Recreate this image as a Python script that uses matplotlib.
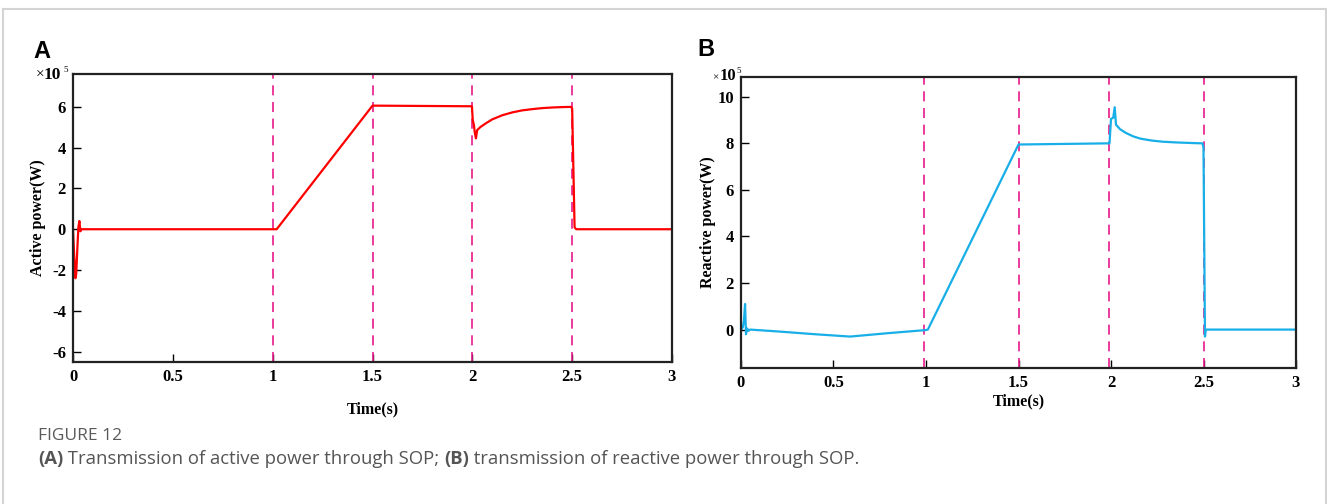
import matplotlib
matplotlib.use("Agg")
import matplotlib.pyplot as plt
from matplotlib.lines import Line2D

# ---------------- data (values in units of 1e5 W) ----------------
t_active = [0.0, 0.006, 0.012, 0.016, 0.022, 0.027, 0.032, 0.037, 0.043, 0.5, 1.0, 1.02,
            1.5, 1.52, 1.998, 2.002, 2.008, 2.012, 2.018, 2.024, 2.04, 2.07,
            2.10, 2.15, 2.20, 2.25, 2.30, 2.35, 2.40, 2.45, 2.495, 2.50,
            2.512, 2.52, 3.0]
p_active = [0.0, -1.3, -2.4, -2.2, -0.9, 0.1, 0.4, -0.1, 0.0, 0.0, 0.0, 0.0,
            6.05, 6.05, 6.02, 5.35, 5.1, 4.75, 4.45, 4.85, 5.0, 5.2,
            5.38, 5.58, 5.72, 5.82, 5.88, 5.93, 5.96, 5.98, 5.99, 5.9,
            0.1, 0.0, 0.0]

t_reactive = [0.0, 0.010, 0.016, 0.022, 0.027, 0.033, 0.040, 0.05, 0.2, 0.4, 0.59,
              0.8, 1.0, 1.01, 1.5, 1.985, 1.992, 2.0, 2.012, 2.02, 2.027,
              2.05, 2.08, 2.12, 2.16, 2.22, 2.28, 2.35, 2.45, 2.495, 2.50,
              2.508, 2.512, 3.0]
p_reactive = [0.0, 0.1, 0.4, 1.1, -0.2, 0.05, -0.05, 0.0, -0.08, -0.2, -0.3,
              -0.15, -0.02, 0.0, 7.95, 8.0, 8.0, 9.05, 9.1, 9.55, 8.8,
              8.6, 8.45, 8.3, 8.2, 8.12, 8.07, 8.04, 8.01, 8.0, 7.8,
              -0.3, 0.0, 0.0]

event_active = [1.0, 1.5, 2.0, 2.5]
event_reactive = [0.99, 1.5, 1.99, 2.5]

x_ticks = [0, 0.5, 1, 1.5, 2, 2.5, 3]
x_ticklabels = ["0", "0.5", "1", "1.5", "2", "2.5", "3"]
y_ticks_a = [-6, -4, -2, 0, 2, 4, 6]
y_ticks_b = [0, 2, 4, 6, 8, 10]

W, H = 1327, 504
fig = plt.figure(figsize=(W / 100, H / 100), dpi=100)

serif = ["Liberation Serif", "DejaVu Serif"]

# border frame
fig.add_artist(Line2D([3 / W, 3 / W], [0, 1 - 9 / H], transform=fig.transFigure, color="#d4d4d4", lw=1.5))
fig.add_artist(Line2D([3 / W, 1326 / W], [1 - 9 / H, 1 - 9 / H], transform=fig.transFigure, color="#d4d4d4", lw=1.5))
fig.add_artist(Line2D([1326 / W, 1326 / W], [0, 1 - 9 / H], transform=fig.transFigure, color="#d4d4d4", lw=1.5))


def box(l, t, r, b):
    return [l / W, 1 - b / H, (r - l) / W, (b - t) / H]


def style(ax, yticks, ylim):
    ax.set_xlim(0, 3)
    ax.set_ylim(*ylim)
    ax.set_xticks(x_ticks)
    ax.set_xticklabels(x_ticklabels)
    ax.set_yticks(yticks)
    ax.set_yticklabels([str(v) for v in yticks])
    ax.tick_params(direction="in", length=6, width=1.0, top=False, right=False, pad=5)
    for lab in ax.get_xticklabels() + ax.get_yticklabels():
        lab.set_fontfamily(serif)
        lab.set_fontweight("bold")
        lab.set_fontsize(12)
    for s in ax.spines.values():
        s.set_linewidth(1.6)
        s.set_color("#222222")


# ---------------- panel A ----------------
axA = fig.add_axes(box(73, 74, 672, 362))
for tv in event_active:
    axA.axvline(tv, color="#e8198b", lw=1.2, dashes=(6, 4))
axA.plot(t_active, p_active, color="#ff0000", lw=1.6)
style(axA, y_ticks_a, (-6.5, 7.6))
axA.set_xlabel("Time(s)", fontfamily=serif, fontweight="bold", fontsize=11.5, labelpad=12)
axA.set_ylabel("Active power(W)", fontfamily=serif, fontweight="bold", fontsize=11.5, labelpad=4)
fig.text(36 / W, 1 - 79 / H, "×", fontfamily=serif, fontsize=11, va="baseline")
fig.text(44 / W, 1 - 79 / H, "10", fontfamily=serif, fontweight="bold", fontsize=12.5, va="baseline")
fig.text(63 / W, 1 - 72 / H, "5", fontfamily=serif, fontsize=6.5, va="baseline")
fig.text(33 / W, 1 - 58 / H, "A", fontfamily=["Liberation Sans", "DejaVu Sans"], fontweight="bold", fontsize=17)

# ---------------- panel B ----------------
axB = fig.add_axes(box(741, 77, 1296, 368))
for tv in event_reactive:
    axB.axvline(tv, color="#e8198b", lw=1.2, dashes=(6, 4))
axB.plot(t_reactive, p_reactive, color="#18aee8", lw=1.6)
style(axB, y_ticks_b, (-1.65, 10.85))
axB.set_xlabel("Time(s)", fontfamily=serif, fontweight="bold", fontsize=11.5, labelpad=2)
axB.set_ylabel("Reactive power(W)", fontfamily=serif, fontweight="bold", fontsize=11.5, labelpad=1)
fig.text(712 / W, 1 - 80 / H, "×", fontfamily=serif, fontsize=8, va="baseline")
fig.text(720 / W, 1 - 80 / H, "10", fontfamily=serif, fontweight="bold", fontsize=12, va="baseline")
fig.text(736 / W, 1 - 73 / H, "5", fontfamily=serif, fontsize=6.5, va="baseline")
fig.text(697 / W, 1 - 56 / H, "B", fontfamily=["Liberation Sans", "DejaVu Sans"], fontweight="bold", fontsize=17)

# ---------------- caption ----------------
cap_font = ["Open Sans", "DejaVu Sans"]
fig.text(38 / W, 1 - 440 / H, "FIGURE 12", fontfamily=cap_font, fontsize=12.5, color="#5a5a5a", va="baseline")

fig.canvas.draw()
r = fig.canvas.get_renderer()
x0 = 38
pieces = [("(A)", "bold"), (" Transmission of active power through SOP; ", "normal"),
          ("(B)", "bold"), (" transmission of reactive power through SOP.", "normal")]
for txt, wt in pieces:
    tt = fig.text(x0 / W, 1 - 464 / H, txt, fontfamily=cap_font, fontsize=13.3, color="#555555",
                  fontweight=wt, va="baseline")
    bb = tt.get_window_extent(renderer=r)
    x0 += bb.width

fig.savefig("out.png", dpi=100, facecolor="white")
